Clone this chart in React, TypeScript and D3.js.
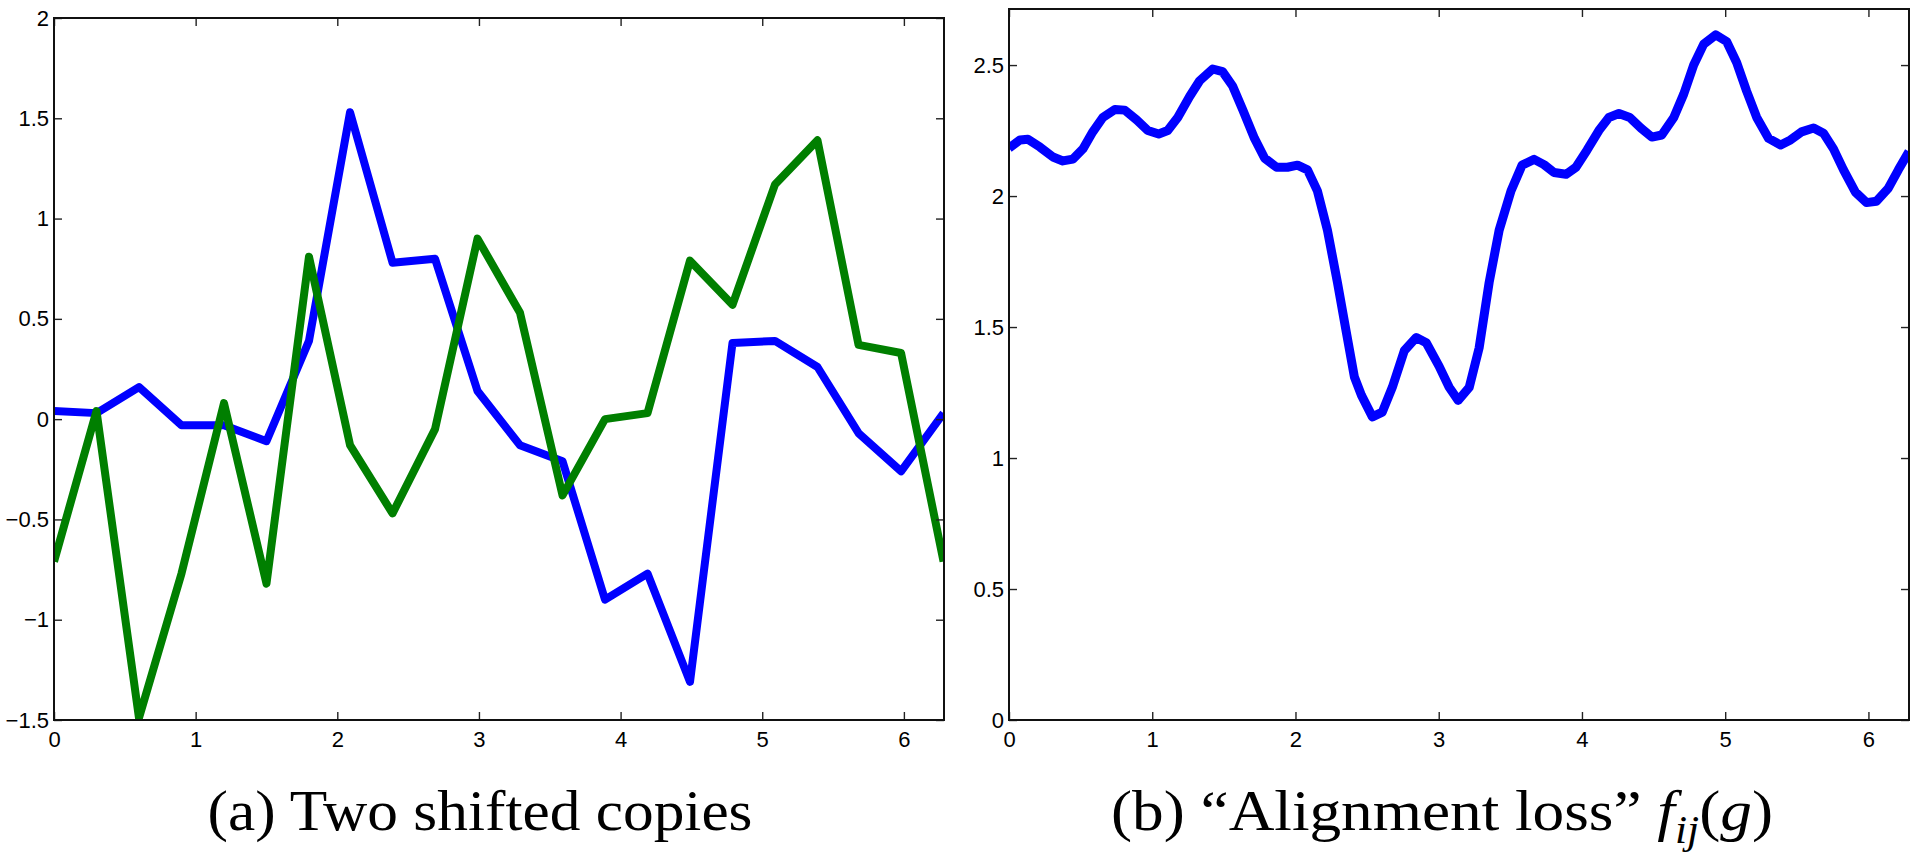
import React, { useEffect, useRef } from 'react'
import * as d3 from 'd3'

// (a) two shifted copies, sampled on 22 points over [0, 2pi]
const sampleX = [0, 0.30, 0.60, 0.90, 1.20, 1.50, 1.80, 2.09, 2.39, 2.69, 2.99,
  3.29, 3.59, 3.89, 4.19, 4.49, 4.79, 5.09, 5.39, 5.68, 5.98, 6.28]
const blueSeries = [0.04, 0.03, 0.16, -0.03, -0.03, -0.11, 0.39, 1.53, 0.78, 0.80, 0.14,
  -0.13, -0.21, -0.90, -0.77, -1.31, 0.38, 0.39, 0.26, -0.07, -0.26, 0.03]
const greenSeries = [-0.71, 0.04, -1.49, -0.77, 0.08, -0.82, 0.81, -0.13, -0.47, -0.05, 0.90,
  0.53, -0.38, 0.00, 0.03, 0.79, 0.57, 1.17, 1.39, 0.37, 0.33, -0.71]

// (b) alignment loss f_ij(g)
const lossX = [0, 0.077, 0.132, 0.216, 0.307, 0.376, 0.446, 0.516, 0.585, 0.655, 0.739,
  0.808, 0.892, 0.969, 1.045, 1.108, 1.178, 1.261, 1.331, 1.422, 1.491, 1.561, 1.631,
  1.714, 1.784, 1.868, 1.944, 2.014, 2.084, 2.153, 2.223, 2.293, 2.355, 2.411, 2.460,
  2.537, 2.606, 2.676, 2.760, 2.843, 2.913, 3.003, 3.073, 3.136, 3.213, 3.282, 3.352,
  3.422, 3.505, 3.582, 3.666, 3.735, 3.805, 3.889, 3.958, 4.035, 4.118, 4.188, 4.258,
  4.334, 4.411, 4.488, 4.557, 4.641, 4.711, 4.780, 4.850, 4.934, 5.010, 5.080, 5.150,
  5.220, 5.303, 5.387, 5.456, 5.533, 5.617, 5.686, 5.756, 5.826, 5.909, 5.986, 6.056,
  6.139, 6.209, 6.283]
const lossY = [2.183, 2.214, 2.217, 2.187, 2.149, 2.134, 2.141, 2.18, 2.245, 2.30, 2.33,
  2.328, 2.29, 2.25, 2.237, 2.25, 2.30, 2.38, 2.44, 2.485, 2.475, 2.42, 2.33,
  2.22, 2.145, 2.11, 2.11, 2.118, 2.10, 2.02, 1.87, 1.67, 1.48, 1.31, 1.24,
  1.157, 1.175, 1.27, 1.41, 1.46, 1.44, 1.35, 1.27, 1.22, 1.27, 1.42, 1.67,
  1.87, 2.02, 2.118, 2.14, 2.12, 2.09, 2.083, 2.11, 2.175, 2.25, 2.30, 2.315,
  2.30, 2.26, 2.225, 2.233, 2.30, 2.39, 2.50, 2.58, 2.615, 2.59, 2.51, 2.40,
  2.30, 2.22, 2.195, 2.214, 2.245, 2.26, 2.24, 2.18, 2.10, 2.015, 1.975, 1.98,
  2.03, 2.10, 2.17]

const xTicks = [0, 1, 2, 3, 4, 5, 6]
const leftYTicks = [-1.5, -1, -0.5, 0, 0.5, 1, 1.5, 2]
const rightYTicks = [0, 0.5, 1, 1.5, 2, 2.5]

const TAU = 2 * Math.PI

const App = () => {
  const ref = useRef(null)

  useEffect(() => {
    const root = d3.select(ref.current)
    root.selectAll('*').remove()
    const fmt = d3.format('~g')

    const drawPanel = (id, box, yDomain, yTicks, series, strokeW) => {
      const x = d3.scaleLinear().domain([0, TAU]).range([box.left, box.right])
      const y = d3.scaleLinear().domain(yDomain).range([box.bottom, box.top])
      const g = root.append('g')

      g.append('clipPath').attr('id', id)
        .append('rect')
        .attr('x', box.left).attr('y', box.top)
        .attr('width', box.right - box.left).attr('height', box.bottom - box.top)

      const line = d3.line().x(d => x(d[0])).y(d => y(d[1]))
      series.forEach(s => {
        g.append('path')
          .datum(s.points)
          .attr('d', line)
          .attr('fill', 'none')
          .attr('stroke', s.color)
          .attr('stroke-width', strokeW)
          .attr('stroke-linejoin', 'round')
          .attr('clip-path', `url(#${id})`)
      })

      const style = a => a
        .call(a => a.select('.domain').remove())
        .call(a => a.selectAll('line').attr('stroke', '#222').attr('stroke-width', 1.4))
        .call(a => a.selectAll('text')
          .attr('font-family', '"Liberation Sans", Arial, sans-serif')
          .attr('font-size', 22).attr('fill', '#000'))

      g.append('g').attr('transform', `translate(0,${box.bottom})`)
        .call(d3.axisBottom(x).tickValues(xTicks).tickFormat(fmt)
          .tickSizeInner(-8).tickSizeOuter(0).tickPadding(11))
        .call(style)
      g.append('g').attr('transform', `translate(0,${box.top})`)
        .call(d3.axisTop(x).tickValues(xTicks).tickFormat(() => '')
          .tickSizeInner(-8).tickSizeOuter(0))
        .call(style)
      g.append('g').attr('transform', `translate(${box.left},0)`)
        .call(d3.axisLeft(y).tickValues(yTicks).tickFormat(fmt)
          .tickSizeInner(-8).tickSizeOuter(0).tickPadding(5))
        .call(style)
      g.append('g').attr('transform', `translate(${box.right},0)`)
        .call(d3.axisRight(y).tickValues(yTicks).tickFormat(() => '')
          .tickSizeInner(-8).tickSizeOuter(0))
        .call(style)

      g.append('rect')
        .attr('x', box.left).attr('y', box.top)
        .attr('width', box.right - box.left).attr('height', box.bottom - box.top)
        .attr('fill', 'none').attr('stroke', '#111').attr('stroke-width', 2)
    }

    drawPanel('clipA', { left: 54, right: 944, top: 18, bottom: 720 }, [-1.5, 2], leftYTicks, [
      { color: '#0000ff', points: sampleX.map((v, i) => [v, blueSeries[i]]) },
      { color: '#007f00', points: sampleX.map((v, i) => [v, greenSeries[i]]) }
    ], 8)

    drawPanel('clipB', { left: 1009, right: 1909, top: 9, bottom: 720 }, [0, 2.714], rightYTicks, [
      { color: '#0000ff', points: lossX.map((v, i) => [v, lossY[i]]) }
    ], 9)
  }, [])

  const serif = '"Liberation Serif", "Times New Roman", serif'

  return (
    <svg width={1920} height={863}
      style={{ position: 'absolute', left: 0, top: 0, background: '#fff' }}>
      <g ref={ref} />
      <text x={480} y={830} textAnchor="middle" fontFamily={serif} fontSize={58}
        textLength={545} lengthAdjust="spacingAndGlyphs">(a) Two shifted copies</text>
      <text x={1442} y={830} textAnchor="middle" fontFamily={serif} fontSize={58}
        textLength={662} lengthAdjust="spacingAndGlyphs">
        (b) “Alignment loss”{'  '}
        <tspan fontStyle="italic">f</tspan>
        <tspan fontStyle="italic" fontSize={40} dy={13}>ij</tspan>
        <tspan dy={-13}>(</tspan>
        <tspan fontStyle="italic">g</tspan>
        <tspan>)</tspan>
      </text>
    </svg>
  )
}

export default App
